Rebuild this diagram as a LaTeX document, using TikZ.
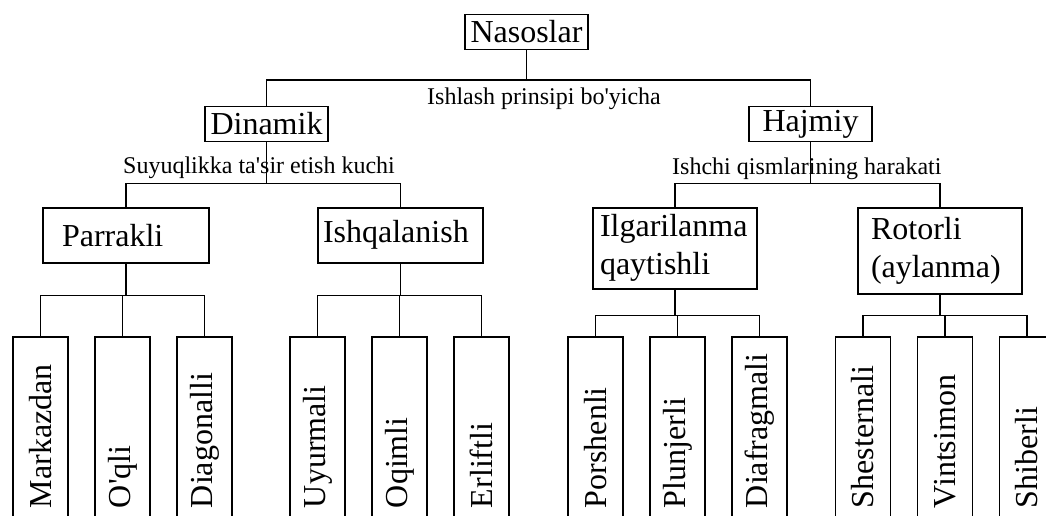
\documentclass[tikz,border=0pt]{standalone}
\usepackage{fontspec}
\setmainfont{Liberation Serif}[Ligatures=TeXOff]
\usetikzlibrary{positioning}

\tikzset{
  link/.style={line width=1.5pt},
  topbox/.style={draw,link,minimum width=123pt,minimum height=35pt,inner sep=0pt,
    font=\fontsize{32}{38}\selectfont},
  midbox/.style={draw,link,anchor=north,align=left,inner ysep=0pt,
    font=\fontsize{32}{38}\selectfont},
  leafbox/.style={draw,link,rotate=90,minimum height=55pt,text width=159pt,
    inner xsep=12pt,inner ysep=0pt,align=left,font=\fontsize{32}{38}\selectfont},
  crit/.style={anchor=base west,inner sep=0pt,font=\fontsize{24}{28}\selectfont}
}

\begin{document}
\begin{tikzpicture}[x=1pt,y=-1pt,node distance=82pt,on grid]
\useasboundingbox (0,0) rectangle (1046,516);
\clip (0,0) rectangle (1046,516);

% top levels
\node[topbox] (nas) at (526.5,32) {Nasoslar};
\node[topbox] (din) at (266.5,124) {Dinamik};
\node[topbox] (haj) at (810.5,124) {Hajmiy};

\node[crit] (crit1) at (427,105) {Ishlash prinsipi bo'yicha};
\node[crit] (crit2) at (123,173) {Suyuqlikka ta'sir etish kuchi};
\node[crit] (crit3) at (672,174) {Ishchi qismlarining harakati};

% middle level
\node[midbox,minimum height=55pt,text width=128pt,inner xsep=19pt] (parr) at (126,207) {Parrakli};
\node[midbox,minimum height=55pt,text width=155pt,inner xsep=5pt] (ishq) at (400.5,207) {Ishqalanish};
\node[midbox,minimum height=81pt,text width=150pt,inner xsep=7pt] (ilg) at (675,207) {Ilgarilanma\\qaytishli};
\node[midbox,minimum height=86pt,text width=138pt,inner xsep=13pt] (rot) at (940,207) {Rotorli\\(aylanma)};

% leaves
\node[leafbox] (mark) at (40.5,428.5) {Markazdan};
\node[leafbox] (oqli) [right=of mark] {O'qli};
\node[leafbox] (diag) [right=of oqli] {Diagonalli};

\node[leafbox] (uyur) at (317.5,428.5) {Uyurmali};
\node[leafbox] (oqim) [right=of uyur] {Oqimli};
\node[leafbox] (erli) [right=of oqim] {Erliftli};

\node[leafbox] (pors) at (595.5,428.5) {Porshenli};
\node[leafbox] (plun) [right=of pors] {Plunjerli};
\node[leafbox] (diaf) [right=of plun] {Diafragmali};

\node[leafbox] (shes) at (863,428.5) {Shesternali};
\node[leafbox] (vint) [right=of shes] {Vintsimon};
\node[leafbox] (shib) [right=of vint] {Shiberli};

% connectors
\draw[link] (nas.south) -- ++(0,30) coordinate (j0);
\draw[link] (j0) -| (din.north);
\draw[link] (j0) -| (haj.north);

\draw[link] (din.south) -- ++(0,41) coordinate (j1);
\draw[link] (j1) -| (parr.north);
\draw[link] (j1) -| (ishq.north);

\draw[link] (haj.south) -- ++(0,41) coordinate (j2);
\draw[link] (j2) -| (ilg.north);
\draw[link] (j2) -| (rot.north);

\draw[link] (parr.south) -- ++(0,32) coordinate (j3);
\draw[link] (j3) -| (mark.east);
\draw[link] (j3) -| (oqli.east);
\draw[link] (j3) -| (diag.east);

\draw[link] (ishq.south) -- ++(0,32) coordinate (j4);
\draw[link] (j4) -| (uyur.east);
\draw[link] (j4) -| (oqim.east);
\draw[link] (j4) -| (erli.east);

\draw[link] (ilg.south) -- ++(0,26) coordinate (j5);
\draw[link] (j5) -| (pors.east);
\draw[link] (j5) -| (plun.east);
\draw[link] (j5) -| (diaf.east);

\draw[link] (rot.south) -- ++(0,21) coordinate (j6);
\draw[link] (j6) -| (shes.east);
\draw[link] (j6) -| (vint.east);
\draw[link] (j6) -| (shib.east);
\end{tikzpicture}
\end{document}
